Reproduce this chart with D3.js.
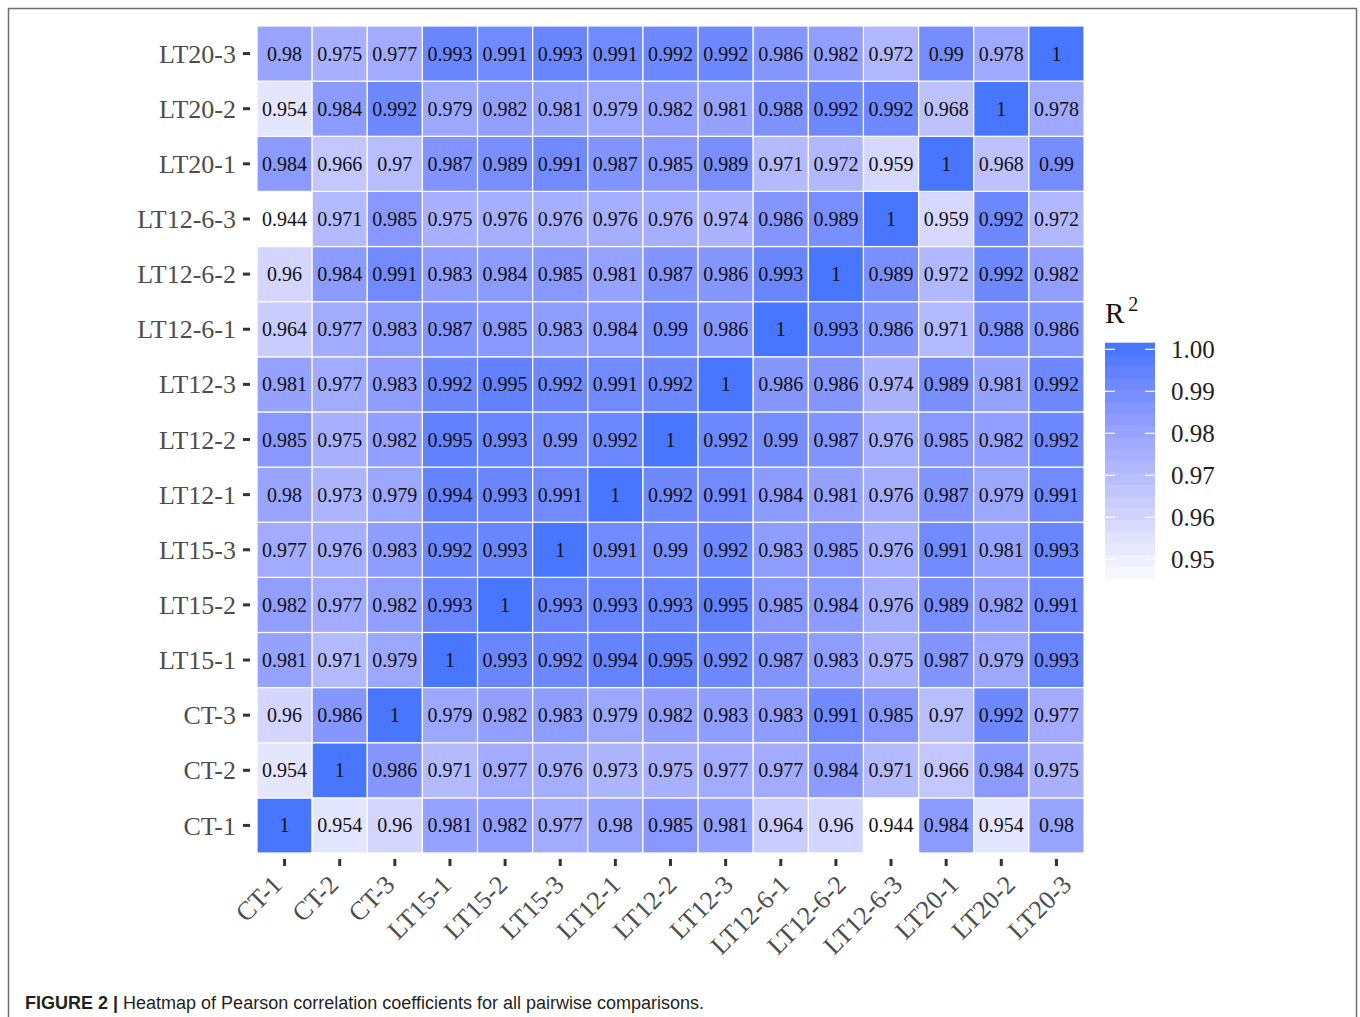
<!DOCTYPE html>
<html>
<head>
<meta charset="utf-8">
<script src="https://cdn.jsdelivr.net/npm/d3@7"></script>
<style>
  html, body { margin: 0; padding: 0; background: #fff; }
  svg { display: block; }
</style>
</head>
<body>
<svg id="chart" width="1360" height="1017"></svg>
<script>
// Sample labels, in axis order (first = bottom row / left column)
const samples = ["CT-1", "CT-2", "CT-3", "LT15-1", "LT15-2", "LT15-3",
  "LT12-1", "LT12-2", "LT12-3", "LT12-6-1", "LT12-6-2", "LT12-6-3",
  "LT20-1", "LT20-2", "LT20-3"];

// R^2 values per row sample, columns in the same order as `samples`
const rowCT1    = [1, 0.954, 0.96, 0.981, 0.982, 0.977, 0.98, 0.985, 0.981, 0.964, 0.96, 0.944, 0.984, 0.954, 0.98];
const rowCT2    = [0.954, 1, 0.986, 0.971, 0.977, 0.976, 0.973, 0.975, 0.977, 0.977, 0.984, 0.971, 0.966, 0.984, 0.975];
const rowCT3    = [0.96, 0.986, 1, 0.979, 0.982, 0.983, 0.979, 0.982, 0.983, 0.983, 0.991, 0.985, 0.97, 0.992, 0.977];
const rowLT15_1 = [0.981, 0.971, 0.979, 1, 0.993, 0.992, 0.994, 0.995, 0.992, 0.987, 0.983, 0.975, 0.987, 0.979, 0.993];
const rowLT15_2 = [0.982, 0.977, 0.982, 0.993, 1, 0.993, 0.993, 0.993, 0.995, 0.985, 0.984, 0.976, 0.989, 0.982, 0.991];
const rowLT15_3 = [0.977, 0.976, 0.983, 0.992, 0.993, 1, 0.991, 0.99, 0.992, 0.983, 0.985, 0.976, 0.991, 0.981, 0.993];
const rowLT12_1 = [0.98, 0.973, 0.979, 0.994, 0.993, 0.991, 1, 0.992, 0.991, 0.984, 0.981, 0.976, 0.987, 0.979, 0.991];
const rowLT12_2 = [0.985, 0.975, 0.982, 0.995, 0.993, 0.99, 0.992, 1, 0.992, 0.99, 0.987, 0.976, 0.985, 0.982, 0.992];
const rowLT12_3 = [0.981, 0.977, 0.983, 0.992, 0.995, 0.992, 0.991, 0.992, 1, 0.986, 0.986, 0.974, 0.989, 0.981, 0.992];
const rowLT12_6_1 = [0.964, 0.977, 0.983, 0.987, 0.985, 0.983, 0.984, 0.99, 0.986, 1, 0.993, 0.986, 0.971, 0.988, 0.986];
const rowLT12_6_2 = [0.96, 0.984, 0.991, 0.983, 0.984, 0.985, 0.981, 0.987, 0.986, 0.993, 1, 0.989, 0.972, 0.992, 0.982];
const rowLT12_6_3 = [0.944, 0.971, 0.985, 0.975, 0.976, 0.976, 0.976, 0.976, 0.974, 0.986, 0.989, 1, 0.959, 0.992, 0.972];
const rowLT20_1 = [0.984, 0.966, 0.97, 0.987, 0.989, 0.991, 0.987, 0.985, 0.989, 0.971, 0.972, 0.959, 1, 0.968, 0.99];
const rowLT20_2 = [0.954, 0.984, 0.992, 0.979, 0.982, 0.981, 0.979, 0.982, 0.981, 0.988, 0.992, 0.992, 0.968, 1, 0.978];
const rowLT20_3 = [0.98, 0.975, 0.977, 0.993, 0.991, 0.993, 0.991, 0.992, 0.992, 0.986, 0.982, 0.972, 0.99, 0.978, 1];

const rows = [rowCT1, rowCT2, rowCT3, rowLT15_1, rowLT15_2, rowLT15_3,
  rowLT12_1, rowLT12_2, rowLT12_3, rowLT12_6_1, rowLT12_6_2, rowLT12_6_3,
  rowLT20_1, rowLT20_2, rowLT20_3];

const legendTicks = [0.95, 0.96, 0.97, 0.98, 0.99, 1.00];
const fillLimits = [0.944, 1];
const caption = "Heatmap of Pearson correlation coefficients for all pairwise comparisons.";

const svg = d3.select("#chart");

// outer figure frame
svg.append("rect")
  .attr("x", 8.5).attr("y", 8.5)
  .attr("width", 1348).attr("height", 1040)
  .attr("fill", "none").attr("stroke", "#6e6e6e").attr("stroke-width", 1.5);

const plot = { left: 257, top: 26, size: 827 };

const x = d3.scaleBand().domain(samples).range([plot.left, plot.left + plot.size]).padding(0);
const y = d3.scaleBand().domain(samples).range([plot.top + plot.size, plot.top]).padding(0);
// rotated x labels sit on a slightly wider band than the ticks
const xLab = d3.scaleBand().domain(samples).range([plot.left - 15, plot.left + plot.size + 4]).padding(0);

const color = d3.scaleLinear()
  .domain(fillLimits)
  .range(["#ffffff", "#4876FF"])
  .interpolate(d3.interpolateLab)
  .clamp(true);

const cells = [];
rows.forEach((vals, ri) => {
  vals.forEach((v, ci) => cells.push({ row: samples[ri], col: samples[ci], value: v }));
});

const serif = "'Liberation Serif', 'Times New Roman', serif";

const g = svg.append("g");
g.selectAll("rect.cell")
  .data(cells)
  .enter().append("rect")
  .attr("class", "cell")
  .attr("x", d => x(d.col))
  .attr("y", d => y(d.row))
  .attr("width", x.bandwidth())
  .attr("height", y.bandwidth())
  .attr("fill", d => color(d.value))
  .attr("stroke", "#ffffff")
  .attr("stroke-width", 1.2);

g.selectAll("text.val")
  .data(cells)
  .enter().append("text")
  .attr("class", "val")
  .attr("x", d => x(d.col) + x.bandwidth() / 2)
  .attr("y", d => y(d.row) + y.bandwidth() / 2)
  .attr("text-anchor", "middle")
  .attr("dy", "0.35em")
  .attr("font-family", serif)
  .attr("font-size", 20)
  .attr("fill", "#111")
  .text(d => String(d.value));

// y axis: tick marks and labels
const yAxis = svg.append("g");
yAxis.selectAll("line")
  .data(samples)
  .enter().append("line")
  .attr("x1", plot.left - 14).attr("x2", plot.left - 7)
  .attr("y1", d => y(d) + y.bandwidth() / 2)
  .attr("y2", d => y(d) + y.bandwidth() / 2)
  .attr("stroke", "#333").attr("stroke-width", 3);
yAxis.selectAll("text")
  .data(samples)
  .enter().append("text")
  .attr("x", plot.left - 21)
  .attr("y", d => y(d) + y.bandwidth() / 2)
  .attr("dy", "0.35em")
  .attr("text-anchor", "end")
  .attr("font-family", serif)
  .attr("font-size", 26)
  .attr("fill", "#4d4d4d")
  .text(d => d);

// x axis: tick marks and rotated labels
const xBase = plot.top + plot.size;
const xAxis = svg.append("g");
xAxis.selectAll("line")
  .data(samples)
  .enter().append("line")
  .attr("x1", d => x(d) + x.bandwidth() / 2)
  .attr("x2", d => x(d) + x.bandwidth() / 2)
  .attr("y1", xBase + 6).attr("y2", xBase + 13)
  .attr("stroke", "#333").attr("stroke-width", 3);
xAxis.selectAll("text")
  .data(samples)
  .enter().append("text")
  .attr("transform", d => `translate(${xLab(d) + xLab.bandwidth() / 2},${xBase + 20}) rotate(-45)`)
  .attr("text-anchor", "end")
  .attr("dy", "0.72em")
  .attr("font-family", serif)
  .attr("font-size", 26)
  .attr("fill", "#4d4d4d")
  .text(d => d);

// colour bar legend
const leg = { x: 1105, w: 50, top: 342.7, bottom: 578.3, bins: 20 };
const legY = d3.scaleLinear().domain([0.95, 1.00]).range([559.3, 349.3]);
const vTop = legY.invert(leg.top), vBot = legY.invert(leg.bottom);
const binH = (leg.bottom - leg.top) / leg.bins;
const bins = d3.range(leg.bins).map(i => vBot + (vTop - vBot) * (i + 0.5) / leg.bins);
const lg = svg.append("g");
lg.selectAll("rect")
  .data(bins)
  .enter().append("rect")
  .attr("x", leg.x)
  .attr("y", d => legY(d) - binH / 2)
  .attr("width", leg.w)
  .attr("height", binH + 0.6)
  .attr("fill", d => color(d));
legendTicks.forEach(t => {
  const ty = legY(t);
  lg.append("line").attr("x1", leg.x).attr("x2", leg.x + 10).attr("y1", ty).attr("y2", ty)
    .attr("stroke", "#fff").attr("stroke-width", 1.2);
  lg.append("line").attr("x1", leg.x + leg.w - 10).attr("x2", leg.x + leg.w).attr("y1", ty).attr("y2", ty)
    .attr("stroke", "#fff").attr("stroke-width", 1.2);
});
lg.selectAll("text.lab")
  .data(legendTicks)
  .enter().append("text")
  .attr("class", "lab")
  .attr("x", leg.x + leg.w + 16)
  .attr("y", d => legY(d))
  .attr("dy", "0.35em")
  .attr("font-family", serif)
  .attr("font-size", 25)
  .attr("fill", "#222")
  .text(d => d3.format(".2f")(d));

const title = lg.append("text")
  .attr("x", leg.x)
  .attr("y", 323)
  .attr("font-family", serif)
  .attr("font-size", 29)
  .attr("fill", "#111");
title.append("tspan").text("R");
title.append("tspan").attr("dx", 4).attr("dy", -12).attr("font-size", 20).text("2");

// figure caption
const cap = svg.append("text")
  .attr("x", 25).attr("y", 1009)
  .attr("font-family", "'Liberation Sans', Arial, sans-serif")
  .attr("font-size", 18)
  .attr("fill", "#231f20");
cap.append("tspan").attr("font-weight", "bold").text("FIGURE 2 | ");
cap.append("tspan").text(caption);
</script>
</body>
</html>
